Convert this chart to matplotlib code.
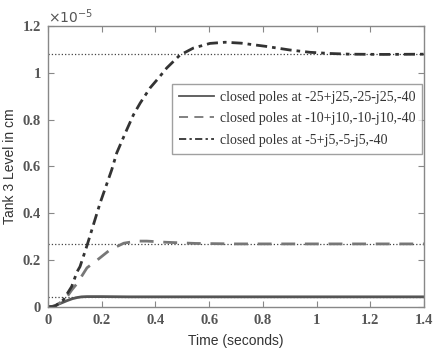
import matplotlib
matplotlib.use("Agg")
import matplotlib.pyplot as plt
from matplotlib.ticker import FormatStrFormatter

# values, level in units of 1e-5 cm
t_slow = [0, 0.025, 0.057, 0.088, 0.108, 0.119, 0.145, 0.194, 0.237, 0.256, 0.293, 0.318,
          0.343, 0.38, 0.41, 0.442, 0.491, 0.541, 0.603, 0.66, 0.72, 0.814, 0.9, 0.976,
          1.05, 1.124, 1.25, 1.4]
y_slow = [0, 0.002, 0.03, 0.087, 0.150, 0.172, 0.262, 0.444, 0.585, 0.658, 0.756, 0.82,
          0.87, 0.935, 0.975, 1.02, 1.075, 1.105, 1.125, 1.13, 1.126, 1.112, 1.097, 1.087,
          1.082, 1.079, 1.078, 1.079]

t_mid = [0, 0.025, 0.05, 0.071, 0.088, 0.108, 0.145, 0.183, 0.231, 0.282, 0.33, 0.368,
         0.44, 0.55, 0.7, 1.0, 1.4]
y_mid = [0, 0.003, 0.022, 0.044, 0.072, 0.1, 0.167, 0.2, 0.244, 0.272, 0.281, 0.281,
         0.276, 0.271, 0.269, 0.269, 0.269]

t_fast = [0, 0.015, 0.033, 0.05, 0.071, 0.09, 0.108, 0.125, 0.145, 0.2, 0.3, 1.4]
y_fast = [0, 0.002, 0.009, 0.017, 0.027, 0.035, 0.040, 0.043, 0.044, 0.044, 0.043, 0.043]

final_values = [0.043, 0.269, 1.080]
labels = ["closed poles at -25+j25,-25-j25,-40",
          "closed poles at -10+j10,-10-j10,-40",
          "closed poles at -5+j5,-5-j5,-40"]

fig = plt.figure(figsize=(4.33, 3.54), dpi=100)
ax = fig.add_axes([0.111, 0.133, 0.868, 0.794])

# dotted steady state lines first
for v in final_values:
    ax.plot([0, 1.4], [v, v], ':', color='#444444', lw=0.9)

ax.plot(t_fast, y_fast, '-', color='#555555', lw=2.0, label=labels[0])
ax.plot(t_mid, y_mid, '--', color='#777777', lw=2.0, dashes=(5, 3.5), label=labels[1])
ax.plot(t_slow, y_slow, '-.', color='#333333', lw=2.0, dashes=(4, 1.8, 1.3, 1.8), label=labels[2])

ax.set_xlim(0, 1.4)
ax.set_ylim(0, 1.2)
ax.set_xticks([0, 0.2, 0.4, 0.6, 0.8, 1, 1.2, 1.4])
ax.set_yticks([0, 0.2, 0.4, 0.6, 0.8, 1, 1.2])
ax.xaxis.set_major_formatter(FormatStrFormatter('%g'))
ax.yaxis.set_major_formatter(FormatStrFormatter('%g'))
ax.tick_params(direction='in', top=True, right=True, length=4, color='#888888',
               labelcolor='#555555', pad=5)
for lab in ax.get_xticklabels() + ax.get_yticklabels():
    lab.set_fontfamily('Liberation Serif')
    lab.set_fontweight('bold')
    lab.set_fontsize(10.5)
for s in ax.spines.values():
    s.set_color('#888888')
    s.set_linewidth(1.0)

ax.text(0.0, 1.0, r'$\times 10^{-5}$', transform=ax.transAxes, ha='left', va='bottom',
        fontsize=10, color='#555555', family='Liberation Serif')

ax.set_xlabel('Time (seconds)', family='Liberation Sans', fontsize=10, color='#333333', labelpad=5)
ax.set_ylabel('Tank 3 Level in cm', family='Liberation Sans', fontsize=10, color='#333333', labelpad=4)

leg = ax.legend(loc='upper right', bbox_to_anchor=(0.995, 0.793), frameon=True, fancybox=False,
                prop={'family': 'Liberation Serif', 'size': 10}, handlelength=2.5,
                borderaxespad=0, labelspacing=0.6, handletextpad=0.4, borderpad=0.5)
leg.get_frame().set_edgecolor('#888888')
leg.get_frame().set_linewidth(1.0)
for txt in leg.get_texts():
    txt.set_color('#333333')
for h in leg.get_lines():
    h.set_linewidth(1.3)

fig.savefig('out.png', dpi=100)
